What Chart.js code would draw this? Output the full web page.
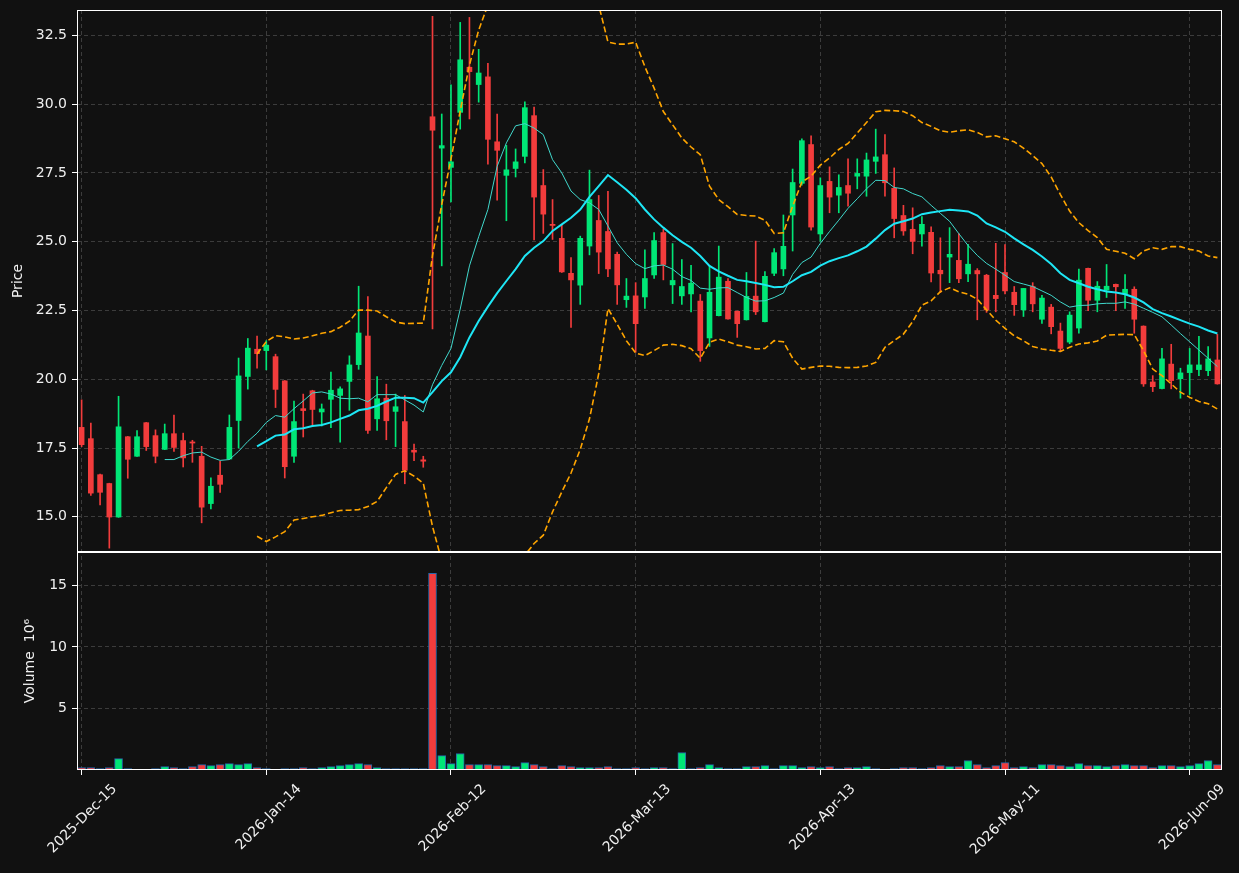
<!DOCTYPE html>
<html>
<head>
<meta charset="utf-8">
<script src="https://cdn.jsdelivr.net/npm/chart.js@4.4.1/dist/chart.umd.min.js"></script>
<style>
html,body{margin:0;padding:0;background:#111111;}
canvas{display:block;}
</style>
</head>
<body>
<canvas id="c" width="1239" height="873"></canvas>
<script>
// ---------------- DATA ----------------
const dates = [
"2025-Dec-15","2025-Dec-16","2025-Dec-17","2025-Dec-18","2025-Dec-19","2025-Dec-22","2025-Dec-23","2025-Dec-24","2025-Dec-26","2025-Dec-29","2025-Dec-30","2025-Dec-31",
"2026-Jan-02","2026-Jan-05","2026-Jan-06","2026-Jan-07","2026-Jan-08","2026-Jan-09","2026-Jan-12","2026-Jan-13","2026-Jan-14","2026-Jan-15","2026-Jan-16","2026-Jan-20","2026-Jan-21","2026-Jan-22","2026-Jan-23","2026-Jan-26","2026-Jan-27","2026-Jan-28","2026-Jan-29","2026-Jan-30",
"2026-Feb-02","2026-Feb-03","2026-Feb-04","2026-Feb-05","2026-Feb-06","2026-Feb-09","2026-Feb-10","2026-Feb-11","2026-Feb-12","2026-Feb-13","2026-Feb-17","2026-Feb-18","2026-Feb-19","2026-Feb-20","2026-Feb-23","2026-Feb-24","2026-Feb-25","2026-Feb-26","2026-Feb-27",
"2026-Mar-02","2026-Mar-03","2026-Mar-04","2026-Mar-05","2026-Mar-06","2026-Mar-09","2026-Mar-10","2026-Mar-11","2026-Mar-12","2026-Mar-13","2026-Mar-16","2026-Mar-17","2026-Mar-18","2026-Mar-19","2026-Mar-20","2026-Mar-23","2026-Mar-24","2026-Mar-25","2026-Mar-26","2026-Mar-27","2026-Mar-30","2026-Mar-31",
"2026-Apr-01","2026-Apr-02","2026-Apr-06","2026-Apr-07","2026-Apr-08","2026-Apr-09","2026-Apr-10","2026-Apr-13","2026-Apr-14","2026-Apr-15","2026-Apr-16","2026-Apr-17","2026-Apr-20","2026-Apr-21","2026-Apr-22","2026-Apr-23","2026-Apr-24","2026-Apr-27","2026-Apr-28","2026-Apr-29","2026-Apr-30",
"2026-May-01","2026-May-04","2026-May-05","2026-May-06","2026-May-07","2026-May-08","2026-May-11","2026-May-12","2026-May-13","2026-May-14","2026-May-15","2026-May-18","2026-May-19","2026-May-20","2026-May-21","2026-May-22","2026-May-26","2026-May-27","2026-May-28","2026-May-29",
"2026-Jun-01","2026-Jun-02","2026-Jun-03","2026-Jun-04","2026-Jun-05","2026-Jun-08","2026-Jun-09","2026-Jun-10","2026-Jun-11","2026-Jun-12"
];

const opens = [
18.25,17.84,16.53,16.21,14.99,17.91,17.20,18.42,17.95,17.45,
18.02,17.77,17.72,17.20,15.48,16.51,17.10,18.50,20.10,21.09,
21.04,20.82,19.94,17.20,18.93,19.58,18.81,19.27,19.41,19.92,
20.53,21.57,18.56,19.31,18.83,18.46,17.42,17.07,29.54,28.40,
27.70,29.70,31.34,30.71,30.99,28.63,27.41,27.66,28.10,29.58,
27.04,25.63,25.12,23.85,23.42,24.84,25.77,25.37,24.54,22.89,
23.03,22.99,23.79,25.33,23.43,23.03,23.10,22.84,21.50,22.31,
23.56,22.47,22.16,23.02,22.09,23.85,24.01,25.97,27.12,28.53,
25.28,27.19,26.69,27.04,27.38,27.38,27.92,28.16,26.94,25.95,
25.45,25.28,25.34,23.96,24.44,24.32,23.83,23.95,23.78,23.05,
23.88,23.16,22.52,23.37,22.18,22.62,21.75,21.35,21.86,24.03,
22.87,23.24,23.45,23.11,23.27,21.93,19.90,19.66,20.55,20.02,
20.24,20.35,20.31,20.70
];
const highs = [
19.25,18.41,16.55,16.22,19.38,17.92,18.13,18.43,18.16,18.37,
18.70,18.04,17.78,17.56,16.42,17.02,18.70,20.77,21.48,21.57,
21.40,20.91,19.95,19.21,19.46,19.60,19.10,20.26,19.72,20.85,
23.38,23.00,20.10,19.82,19.46,19.41,17.64,17.20,33.19,29.64,
30.70,32.97,33.15,31.99,31.48,29.64,28.50,28.37,30.08,29.89,
27.62,26.53,25.63,24.42,25.20,27.60,26.68,26.83,24.62,23.66,
23.51,24.70,25.33,25.45,24.93,24.35,24.14,23.08,24.12,24.84,
23.66,22.48,23.88,25.02,23.91,24.75,25.97,27.64,28.74,28.85,
27.32,27.72,27.43,28.01,28.01,28.22,29.09,28.89,27.68,26.32,
26.23,25.91,25.54,25.14,25.51,25.29,24.90,24.02,23.81,24.94,
24.89,23.37,23.30,23.51,23.05,22.72,22.04,22.45,24.00,24.04,
23.55,24.17,23.46,23.80,23.36,21.94,20.13,21.12,21.27,20.40,
21.12,21.56,21.19,21.63
];
const lows = [
17.55,15.78,15.43,13.86,14.98,16.40,17.19,17.41,16.96,17.44,
17.38,16.81,16.98,14.78,15.29,15.89,17.08,17.50,19.64,20.40,
20.34,18.97,16.41,16.98,17.90,18.30,18.30,18.24,17.71,18.87,
20.36,18.03,18.14,17.80,17.55,16.20,17.04,16.80,21.83,24.12,
26.44,29.09,29.46,30.07,27.82,26.51,25.76,27.35,27.86,25.06,
25.30,25.08,23.88,21.88,22.72,24.52,23.84,23.73,22.72,22.61,
20.98,22.57,23.66,23.61,22.75,22.72,22.45,20.65,21.19,22.30,
22.18,21.52,22.15,22.35,22.08,23.76,23.76,24.66,27.05,25.42,
25.02,26.05,26.05,26.29,26.92,26.65,27.48,26.65,25.14,25.23,
24.56,24.84,23.54,23.15,23.51,23.51,23.55,22.16,22.43,22.45,
23.10,22.32,22.28,22.45,22.03,21.65,21.00,21.29,21.67,22.49,
22.45,22.97,22.49,22.57,21.67,19.74,19.55,19.65,19.65,19.31,
19.44,20.13,20.13,19.82
];
const closes = [
17.62,15.86,15.89,14.99,18.27,17.09,17.91,17.55,17.20,18.02,
17.52,17.14,17.68,15.35,16.11,16.18,18.25,20.12,21.13,20.93,
21.24,19.63,16.82,18.46,18.86,18.90,18.92,19.60,19.65,20.52,
21.68,18.14,19.29,18.49,19.00,16.69,17.35,17.02,29.05,28.49,
27.90,31.61,31.18,31.13,28.72,28.32,27.61,27.90,29.87,26.62,
26.00,25.59,23.90,23.61,25.12,26.53,24.62,24.01,23.43,23.02,
22.02,23.66,25.04,24.17,23.59,23.37,23.49,21.04,23.16,23.71,
22.19,22.02,23.01,22.45,23.74,24.60,24.83,27.15,28.67,25.53,
27.04,26.62,26.97,26.76,27.48,27.97,28.08,27.14,25.84,25.39,
25.01,25.63,23.86,23.83,24.54,23.65,24.18,23.83,22.52,22.93,
23.21,22.71,23.30,22.74,22.95,21.91,21.12,22.33,23.60,22.87,
23.38,23.38,23.36,23.27,22.18,19.83,19.73,20.74,19.95,20.23,
20.52,20.52,20.74,19.83
];
// volume in millions
const volumes = [
0.20,0.20,0.12,0.20,0.93,0.12,0.04,0.04,0.12,0.28,
0.20,0.12,0.28,0.44,0.36,0.44,0.52,0.44,0.52,0.20,
0.12,0.04,0.12,0.12,0.20,0.12,0.20,0.28,0.36,0.44,
0.52,0.44,0.20,0.12,0.12,0.12,0.12,0.12,15.97,1.17,
0.52,1.34,0.44,0.44,0.44,0.36,0.36,0.28,0.60,0.44,
0.28,0.12,0.36,0.28,0.20,0.20,0.20,0.28,0.12,0.12,
0.20,0.12,0.20,0.20,0.12,1.42,0.12,0.20,0.44,0.20,
0.12,0.12,0.28,0.28,0.36,0.12,0.36,0.36,0.20,0.28,
0.20,0.28,0.12,0.20,0.20,0.28,0.12,0.04,0.12,0.20,
0.20,0.12,0.20,0.36,0.28,0.28,0.77,0.44,0.20,0.36,
0.60,0.20,0.28,0.20,0.44,0.44,0.36,0.28,0.52,0.36,
0.36,0.28,0.36,0.44,0.36,0.36,0.20,0.36,0.36,0.28,
0.36,0.52,0.77,0.44
];
// short moving average (thin line)
const maShort = [
null,null,null,null,null,null,null,null,null,17.08,
17.08,17.22,17.32,17.35,17.17,17.05,17.08,17.38,17.74,18.04,
18.43,18.68,18.62,18.93,19.21,19.50,19.54,19.46,19.31,19.29,
19.31,19.18,19.44,19.44,19.44,19.25,19.06,18.81,19.80,20.50,
21.12,22.55,24.12,25.18,26.17,27.74,28.59,29.21,29.29,29.13,
28.89,27.98,27.50,26.84,26.53,26.41,26.17,25.57,24.96,24.54,
24.20,24.02,24.12,24.15,24.00,23.73,23.59,23.31,23.27,23.32,
23.33,23.15,22.97,22.84,22.85,22.97,23.13,23.81,24.24,24.44,
24.94,25.37,25.78,26.21,26.56,26.92,27.23,27.22,26.97,26.92,
26.75,26.63,26.32,26.03,25.74,25.29,24.86,24.50,24.21,24.00,
23.78,23.55,23.46,23.37,23.21,23.05,22.81,22.62,22.68,22.69,
22.74,22.76,22.76,22.81,22.73,22.58,22.43,22.27,21.97,21.66,
21.36,21.06,20.76,20.46
];
// long moving average (thick line)
const maLong = [
null,null,null,null,null,null,null,null,null,null,
null,null,null,null,null,null,null,null,null,17.56,
17.75,17.95,17.99,18.18,18.22,18.30,18.34,18.43,18.56,18.68,
18.87,18.93,19.03,19.19,19.33,19.33,19.31,19.15,19.53,19.93,
20.25,20.80,21.52,22.12,22.64,23.13,23.57,24.00,24.48,24.78,
25.02,25.39,25.63,25.87,26.17,26.63,27.02,27.42,27.16,26.89,
26.58,26.17,25.81,25.51,25.23,24.99,24.78,24.48,24.12,23.92,
23.76,23.61,23.56,23.50,23.43,23.34,23.36,23.56,23.78,23.90,
24.13,24.29,24.40,24.50,24.65,24.82,25.11,25.42,25.65,25.74,
25.84,26.00,26.06,26.11,26.16,26.13,26.10,25.95,25.66,25.52,
25.36,25.12,24.90,24.70,24.46,24.19,23.85,23.61,23.49,23.36,
23.27,23.19,23.15,23.09,22.97,22.79,22.55,22.40,22.28,22.15,
22.02,21.91,21.77,21.66
];
// upper band (dashed)
const bandUpper = [
null,null,null,null,null,null,null,null,null,null,
null,null,null,null,null,null,null,null,null,20.92,
21.37,21.58,21.54,21.46,21.50,21.58,21.67,21.73,21.89,22.11,
22.51,22.51,22.48,22.27,22.08,22.02,22.03,22.04,24.50,26.35,
28.00,29.75,31.42,32.69,33.60,34.20,34.60,34.90,35.40,35.60,
35.70,35.60,35.35,35.15,34.90,34.70,33.60,32.26,32.18,32.18,
32.25,31.36,30.58,29.73,29.25,28.77,28.44,28.16,27.02,26.53,
26.27,25.99,25.95,25.93,25.78,25.30,25.32,26.29,27.17,27.38,
27.78,28.04,28.35,28.57,28.95,29.33,29.72,29.77,29.76,29.73,
29.58,29.33,29.19,29.03,28.98,29.03,29.07,28.97,28.81,28.85,
28.74,28.63,28.40,28.13,27.84,27.35,26.71,26.11,25.69,25.40,
25.15,24.72,24.65,24.58,24.38,24.66,24.78,24.72,24.82,24.82,
24.72,24.66,24.48,24.42
];
// lower band (dashed)
const bandLower = [
null,null,null,null,null,null,null,null,null,null,
null,null,null,null,null,null,null,null,null,14.29,
14.10,14.27,14.46,14.88,14.94,15.00,15.05,15.15,15.23,15.24,
15.26,15.37,15.56,16.06,16.54,16.67,16.48,16.22,14.65,13.40,
12.60,11.90,11.60,11.55,11.70,12.05,12.55,13.10,13.60,14.03,
14.33,15.18,15.90,16.59,17.45,18.56,20.20,22.57,22.00,21.40,
20.95,20.86,21.04,21.24,21.27,21.22,21.11,20.76,21.34,21.46,
21.36,21.24,21.18,21.10,21.12,21.40,21.36,20.76,20.37,20.43,
20.48,20.47,20.43,20.42,20.43,20.48,20.61,21.16,21.40,21.64,
22.09,22.69,22.85,23.18,23.32,23.18,23.09,22.91,22.52,22.15,
21.85,21.58,21.40,21.19,21.10,21.05,21.01,21.16,21.28,21.32,
21.39,21.60,21.62,21.63,21.62,21.04,20.37,20.13,19.83,19.53,
19.34,19.19,19.11,18.92
];
const priceTicks = [15, 17.5, 20, 22.5, 25, 27.5, 30, 32.5];
const volumeTicks = [5, 10, 15];
const xTickEvery = 20;

// ---------------- STYLE ----------------
const BG = '#111111';
const UP = '#00e676';
const DOWN = '#f23c3c';
const GRID = '#3c3c3c';
const TEXT = '#f0f0f0';

Chart.defaults.font.family = "'DejaVu Sans', 'Liberation Sans', sans-serif";
Chart.defaults.font.size = 14;
Chart.defaults.color = TEXT;

const candleColors = closes.map((c, i) => c >= opens[i] ? UP : DOWN);
const wickData = lows.map((l, i) => [l, highs[i]]);
const bodyData = opens.map((o, i) => [o, closes[i]]);

const bgPlugin = {
  id: 'bg',
  beforeDraw(chart) {
    const c = chart.ctx;
    c.save(); c.fillStyle = BG; c.fillRect(0, 0, chart.width, chart.height); c.restore();
  }
};
const clipPlugin = {
  id: 'panelClip',
  beforeDatasetDraw(chart, args) {
    const ys = args.meta.yScale, ca = chart.chartArea, c = chart.ctx;
    c.save(); c.beginPath();
    c.rect(ca.left, ys.top, ca.right - ca.left, ys.bottom - ys.top);
    c.clip();
  },
  afterDatasetDraw(chart) { chart.ctx.restore(); }
};
const framePlugin = {
  id: 'frames',
  afterDraw(chart) {
    const c = chart.ctx, ca = chart.chartArea;
    const L = Math.round(ca.left) + 0.5, R = Math.round(ca.right) - 0.5;
    c.save();
    c.strokeStyle = '#ffffff'; c.lineWidth = 1;
    for (const id of ['y', 'yVol']) {
      const s = chart.scales[id];
      const T = Math.round(s.top) + 0.5, B = Math.round(s.bottom) - 0.5;
      c.strokeRect(L, T, R - L, B - T);
    }
    c.restore();
  }
};
const fitY = s => { s.width = 77; s.paddingTop = 0; s.paddingBottom = 0; };

new Chart(document.getElementById('c'), {
  type: 'bar',
  data: {
    labels: dates,
    datasets: [
      { type: 'line', label: 'MA long', data: maLong, yAxisID: 'y', borderColor: '#1ee6f5', borderWidth: 2, pointRadius: 0, tension: 0, fill: false, order: 1 },
      { type: 'line', label: 'MA short', data: maShort, yAxisID: 'y', borderColor: '#40d8cc', borderWidth: 1, pointRadius: 0, tension: 0, fill: false, order: 2 },
      { type: 'line', label: 'Upper', data: bandUpper, yAxisID: 'y', borderColor: '#ffa500', borderWidth: 1.6, borderDash: [6, 3], pointRadius: 0, tension: 0, fill: false, order: 3 },
      { type: 'line', label: 'Lower', data: bandLower, yAxisID: 'y', borderColor: '#ffa500', borderWidth: 1.6, borderDash: [6, 3], pointRadius: 0, tension: 0, fill: false, order: 3 },
      { label: 'Body', data: bodyData, yAxisID: 'y', backgroundColor: candleColors, borderWidth: 0, barThickness: 5, minBarLength: 1, grouped: false, order: 5 },
      { label: 'Wick', data: wickData, yAxisID: 'y', backgroundColor: candleColors, borderWidth: 0, barThickness: 1, grouped: false, order: 6 },
      { label: 'Volume', data: volumes, yAxisID: 'yVol', backgroundColor: candleColors, borderColor: '#2668aa', borderWidth: 1, borderSkipped: false, barThickness: 8, grouped: false, order: 7 }
    ]
  },
  options: {
    responsive: false,
    animation: false,
    devicePixelRatio: 1,
    layout: { padding: { top: 10, right: 17, left: 0, bottom: 0 } },
    plugins: { legend: { display: false }, tooltip: { enabled: false } },
    scales: {
      x: {
        type: 'category',
        offset: true,
        grid: { offset: false, color: GRID, lineWidth: 1, tickLength: 5, tickColor: '#ffffff', tickWidth: 1 },
        border: { display: false, dash: [4, 3] },
        ticks: { color: TEXT, autoSkip: false, maxRotation: 45, minRotation: 45, labelOffset: 33, padding: 6 },
        afterBuildTicks: s => { s.ticks = s.ticks.filter(t => t.value % xTickEvery === 0); },
        afterFit: s => { s.height = 103; }
      },
      yVol: {
        type: 'linear', position: 'left', stack: 'panels', stackWeight: 218,
        min: 0, max: 17.71,
        grid: { color: GRID, lineWidth: 1, tickLength: 5, tickColor: '#ffffff', tickWidth: 1 },
        border: { display: false, dash: [4, 3] },
        ticks: { color: TEXT, padding: 5, callback: v => String(v) },
        afterBuildTicks: s => { s.ticks = volumeTicks.map(v => ({ value: v })); },
        title: { display: true, text: 'Volume  10\u2076', color: TEXT, font: { size: 14 }, padding: { top: 22, bottom: 0 } },
        afterFit: fitY
      },
      y: {
        type: 'linear', position: 'left', stack: 'panels', stackWeight: 542,
        min: 13.72, max: 33.42,
        grid: { color: GRID, lineWidth: 1, tickLength: 5, tickColor: '#ffffff', tickWidth: 1 },
        border: { display: false, dash: [4, 3] },
        ticks: { color: TEXT, padding: 5, callback: v => Number(v).toFixed(1) },
        afterBuildTicks: s => { s.ticks = priceTicks.map(v => ({ value: v })); },
        title: { display: true, text: 'Price', color: TEXT, font: { size: 14 }, padding: { top: 10, bottom: 0 } },
        afterFit: fitY
      }
    }
  },
  plugins: [bgPlugin, clipPlugin, framePlugin]
});
</script>
</body>
</html>
